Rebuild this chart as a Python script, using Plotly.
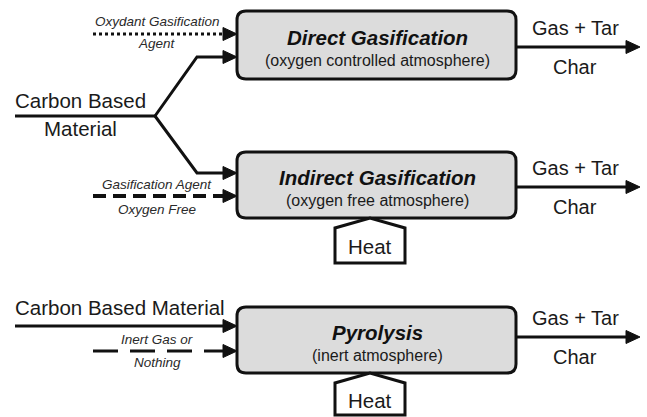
import plotly.graph_objects as go

# ---- text content ----
process_titles = ["Direct Gasification", "Indirect Gasification", "Pyrolysis"]
process_subtitles = ["(oxygen controlled atmosphere)", "(oxygen free atmosphere)", "(inert atmosphere)"]
output_labels = ["Gas + Tar", "Char"]
agent_labels_top = ["Oxydant Gasification", "Gasification Agent", "Inert Gas or"]
agent_labels_bottom = ["Agent", "Oxygen Free", "Nothing"]
feed_label_split = ["Carbon Based", "Material"]
feed_label_single = "Carbon Based Material"
heat_label = "Heat"

# ---- geometry (pixel space, y downward) ----
W, H = 647, 417
box_x = (237, 516)
box_y = [(11, 79), (152, 218), (307, 373)]
out_y = [47, 187, 337]
out_tip = 640
agent_y = [34, 196, 351]
agent_top_off = [-13, -12, -12]
agent_bot_off = [9, 13, 11]
agent_x0 = 93
agent_dash = ["3px,3px", "13px,7px", "25px,12px"]
agent_w = [3, 4, 3]
heat_boxes = [1, 2]
heat_bottom = [263, 415]

FONT = "Liberation Sans, Arial, sans-serif"
INK = "#111111"

shapes = []
annotations = []


def line(x0, y0, x1, y1, w=3, dash=None):
    shapes.append(dict(type="line", x0=x0, y0=y0, x1=x1, y1=y1, xref="x", yref="y",
                       line=dict(color=INK, width=w, dash=dash)))


def head(tx, ty, L=14, h=6.5):
    shapes.append(dict(type="path", xref="x", yref="y",
                       path=f"M {tx-L},{ty-h} L {tx},{ty} L {tx-L},{ty+h} Z",
                       fillcolor=INK, line=dict(color=INK, width=1)))


def text(x, y, s, size, italic=False, bold=False, color="#1a1a1a"):
    if bold:
        s = f"<b>{s}</b>"
    if italic:
        s = f"<i>{s}</i>"
    annotations.append(dict(x=x, y=y, xref="x", yref="y", text=s, showarrow=False,
                            font=dict(family=FONT, size=size, color=color),
                            xanchor="center", yanchor="middle"))


def rbox(x0, y0, x1, y1, r=9):
    p = (f"M {x0+r},{y0} L {x1-r},{y0} Q {x1},{y0} {x1},{y0+r} L {x1},{y1-r} "
         f"Q {x1},{y1} {x1-r},{y1} L {x0+r},{y1} Q {x0},{y1} {x0},{y1-r} "
         f"L {x0},{y0+r} Q {x0},{y0} {x0+r},{y0} Z")
    shapes.append(dict(type="path", path=p, xref="x", yref="y",
                       fillcolor="#dcdcdc", line=dict(color=INK, width=3)))


# process boxes
for i, (y0, y1) in enumerate(box_y):
    rbox(box_x[0], y0, box_x[1], y1)
    cy = (y0 + y1) / 2
    text(377, cy - 8, process_titles[i], 20.5, italic=True, bold=True, color="#111")
    text(377, cy + 15, process_subtitles[i], 16)
    # outputs
    line(box_x[1], out_y[i], out_tip - 12, out_y[i])
    head(out_tip, out_y[i])
    text(575, out_y[i] - 19, output_labels[0], 20)
    text(575, out_y[i] + 20, output_labels[1], 20)
    # agent input
    line(agent_x0, agent_y[i], box_x[0] - 13, agent_y[i], w=agent_w[i], dash=agent_dash[i])
    head(box_x[0], agent_y[i])
    text(157, agent_y[i] + agent_top_off[i], agent_labels_top[i], 13.5, italic=True, color="#2a2a2a")
    text(157, agent_y[i] + agent_bot_off[i], agent_labels_bottom[i], 13.5, italic=True, color="#2a2a2a")

# heat pentagons
for k, i in enumerate(heat_boxes):
    yb = box_y[i][1]
    ybot = heat_bottom[k]
    p = f"M 335,{ybot} L 335,{yb+10} L 370,{yb} L 405,{yb+10} L 405,{ybot} Z"
    shapes.append(dict(type="path", path=p, xref="x", yref="y",
                       fillcolor="white", line=dict(color=INK, width=3)))
    text(370, (yb + 10 + ybot) / 2 + 1, heat_label, 20.5)

# branching feed for gasification
line(15, 116, 156, 116)
shapes.append(dict(type="path", xref="x", yref="y",
                   path="M 155,116 L 197,57 L 224,57", line=dict(color=INK, width=3)))
shapes.append(dict(type="path", xref="x", yref="y",
                   path="M 155,116 L 197,173 L 224,173", line=dict(color=INK, width=3)))
head(box_x[0], 57)
head(box_x[0], 173)
text(80, 100, feed_label_split[0], 20.5)
text(80, 128, feed_label_split[1], 20.5)

# pyrolysis feed
line(15, 326, 224, 326)
head(box_x[0], 326)
text(120, 307, feed_label_single, 20.5)

fig = go.Figure()
fig.update_layout(
    width=W, height=H, margin=dict(l=0, r=0, t=0, b=0),
    paper_bgcolor="white", plot_bgcolor="white",
    xaxis=dict(range=[0, W], visible=False, fixedrange=True),
    yaxis=dict(range=[H, 0], visible=False, fixedrange=True),
    shapes=shapes, annotations=annotations, showlegend=False,
)
fig.write_html("out.html", config={"displayModeBar": False},
               post_script="document.body.style.margin='0';")
